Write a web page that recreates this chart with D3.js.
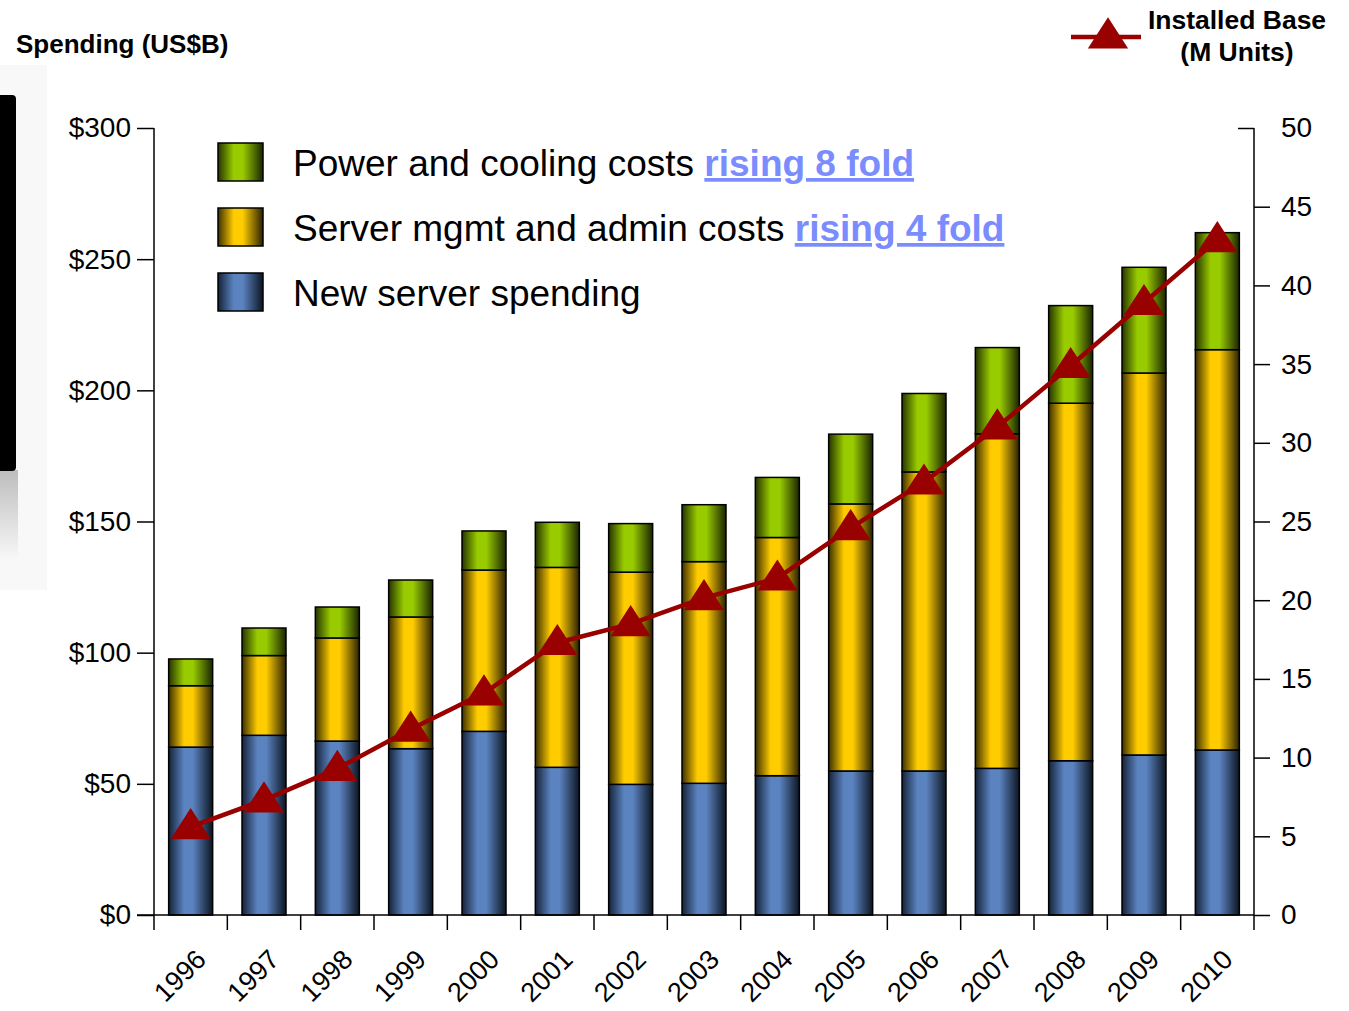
<!DOCTYPE html>
<html>
<head>
<meta charset="utf-8">
<script src="https://cdn.jsdelivr.net/npm/d3@7"></script>
<style>
  body { margin: 0; background: #fff; }
  svg { font-family: "Liberation Sans", Arial, Helvetica, sans-serif; }
</style>
</head>
<body>
<div id="chart"></div>
<script>
var years = ["1996","1997","1998","1999","2000","2001","2002","2003","2004","2005","2006","2007","2008","2009","2010"];
var newServer = [64.0, 68.5, 66.3, 63.4, 70.0, 56.3, 49.8, 50.2, 53.1, 54.9, 54.9, 55.9, 58.8, 61.0, 62.9];
var mgmtAdmin = [23.4, 30.4, 39.3, 50.2, 61.5, 76.2, 80.9, 84.5, 90.8, 101.8, 114.0, 127.5, 136.3, 145.6, 152.6];
var powerCooling = [10.2, 10.5, 11.8, 14.1, 14.9, 17.2, 18.5, 21.7, 22.9, 26.6, 29.9, 32.9, 37.2, 40.3, 44.6];
var installedBase = [5.6, 7.3, 9.3, 11.8, 14.1, 17.3, 18.5, 20.15, 21.4, 24.6, 27.5, 31.0, 34.9, 38.9, 42.9];

var leftTicks = [0, 50, 100, 150, 200, 250, 300];
var rightTicks = [0, 5, 10, 15, 20, 25, 30, 35, 40, 45, 50];

var seriesKeys = ["newServer", "mgmtAdmin", "powerCooling"];
var seriesColors = {
    newServer: ["#152238", "#5b83c0", "#0c1522"],
    mgmtAdmin: ["#3d3000", "#ffcc00", "#2a2100"],
    powerCooling: ["#263400", "#99cc00", "#1a2400"]
};
var legendItems = [
    {key: "powerCooling", text: "Power and cooling costs ", link: "rising 8 fold"},
    {key: "mgmtAdmin", text: "Server mgmt and admin costs ", link: "rising 4 fold"},
    {key: "newServer", text: "New server spending", link: null}
];

var W = 1349, H = 1011;
var margin = {left: 154, right: 95, top: 128, bottom: 96};
var plotW = W - margin.left - margin.right;
var plotH = H - margin.top - margin.bottom;

var svg = d3.select("#chart").append("svg")
    .attr("width", W).attr("height", H);

var defs = svg.append("defs");
seriesKeys.forEach(function(k){
    var c = seriesColors[k];
    var g = defs.append("linearGradient").attr("id", "grad-" + k)
        .attr("x1", "0%").attr("x2", "100%").attr("y1", "0%").attr("y2", "0%");
    g.append("stop").attr("offset", "0%").attr("stop-color", c[0]);
    g.append("stop").attr("offset", "35%").attr("stop-color", c[1]);
    g.append("stop").attr("offset", "55%").attr("stop-color", c[1]);
    g.append("stop").attr("offset", "100%").attr("stop-color", c[2]);
});
var fade = defs.append("linearGradient").attr("id", "fade")
    .attr("x1", "0%").attr("x2", "0%").attr("y1", "0%").attr("y2", "100%");
fade.append("stop").attr("offset", "0%").attr("stop-color", "#bdbdbd");
fade.append("stop").attr("offset", "100%").attr("stop-color", "#f8f8f8");

// left edge remnant of slide
svg.append("rect").attr("x", 0).attr("y", 65).attr("width", 47).attr("height", 525).attr("fill", "#f8f8f8");
svg.append("rect").attr("x", 0).attr("y", 470).attr("width", 18).attr("height", 90).attr("fill", "url(#fade)");
svg.append("rect").attr("x", -6).attr("y", 95).attr("width", 22).attr("height", 376).attr("rx", 4).attr("fill", "#000");

var x = d3.scaleBand().domain(years).range([0, plotW]).paddingInner(0.4).paddingOuter(0.2);
var yL = d3.scaleLinear().domain([0, 300]).range([plotH, 0]);
var yR = d3.scaleLinear().domain([0, 50]).range([plotH, 0]);

var g = svg.append("g").attr("transform", "translate(" + margin.left + "," + margin.top + ")");

var data = years.map(function(yr, i){
    return {year: yr, newServer: newServer[i], mgmtAdmin: mgmtAdmin[i], powerCooling: powerCooling[i]};
});
var stacked = d3.stack().keys(seriesKeys)(data);

stacked.forEach(function(layer){
    g.append("g").selectAll("rect")
        .data(layer)
        .enter().append("rect")
        .attr("x", function(d){ return x(d.data.year); })
        .attr("y", function(d){ return yL(d[1]); })
        .attr("width", x.bandwidth())
        .attr("height", function(d){ return yL(d[0]) - yL(d[1]); })
        .attr("fill", "url(#grad-" + layer.key + ")")
        .attr("stroke", "#000")
        .attr("stroke-width", 1.5);
});

// axes
var leftAxis = d3.axisLeft(yL).tickValues(leftTicks).tickSize(17).tickPadding(6)
    .tickFormat(function(d){ return "$" + d; });
var gl = g.append("g").call(leftAxis);
gl.select(".domain").attr("d", "M0," + plotH + "V0");
gl.selectAll("text").attr("font-size", 28).attr("fill", "#000").attr("font-family", null);
gl.selectAll("line").attr("stroke-width", 1.5);
gl.select(".domain").attr("stroke-width", 1.5);

var rightAxis = d3.axisRight(yR).tickValues(rightTicks).tickSize(16).tickPadding(11);
var gr = g.append("g").attr("transform", "translate(" + plotW + ",0)").call(rightAxis);
gr.select(".domain").attr("d", "M0," + plotH + "V0").attr("stroke-width", 1.5);
gr.selectAll("text").attr("font-size", 28).attr("fill", "#000").attr("font-family", null);
gr.selectAll("line").attr("stroke-width", 1.5);
gr.selectAll(".tick").filter(function(d){ return d === 50; }).select("line").attr("x2", -16);

var gb = g.append("g").attr("transform", "translate(0," + plotH + ")");
gb.append("line").attr("x1", -17).attr("x2", plotW).attr("y1", 0).attr("y2", 0)
    .attr("stroke", "#000").attr("stroke-width", 1.5);
var bounds = years.map(function(yr){ return x(yr) - x.step() * x.paddingInner() / 2; });
bounds.push(plotW);
gb.selectAll("line.tk").data(bounds).enter().append("line").attr("class", "tk")
    .attr("x1", function(d){ return d; }).attr("x2", function(d){ return d; })
    .attr("y1", 0).attr("y2", 15).attr("stroke", "#000").attr("stroke-width", 1.5);
gb.selectAll("text").data(years).enter().append("text")
    .attr("transform", function(d){ return "translate(" + (x(d) + x.bandwidth() / 2 + 17) + ",46) rotate(-45)"; })
    .attr("text-anchor", "end")
    .attr("font-size", 27)
    .text(function(d){ return d; });

// installed base line
var line = d3.line()
    .x(function(d, i){ return x(years[i]) + x.bandwidth() / 2; })
    .y(function(d){ return yR(d); });
g.append("path").datum(installedBase)
    .attr("d", line)
    .attr("fill", "none")
    .attr("stroke", "#990000")
    .attr("stroke-width", 4.5);

var tri = d3.symbol().type(d3.symbolTriangle).size(560);
g.selectAll("path.tri").data(installedBase).enter().append("path").attr("class", "tri")
    .attr("d", tri)
    .attr("transform", function(d, i){ return "translate(" + (x(years[i]) + x.bandwidth() / 2) + "," + (yR(d) + 2) + ") scale(1.12,1)"; })
    .attr("fill", "#990000");

// legend
var lg = svg.append("g").attr("transform", "translate(218,143)");
legendItems.forEach(function(item, i){
    var row = lg.append("g").attr("transform", "translate(0," + (i * 65) + ")");
    row.append("rect").attr("width", 45).attr("height", 38)
        .attr("fill", "url(#grad-" + item.key + ")")
        .attr("stroke", "#000").attr("stroke-width", 1.5);
    var t = row.append("text").attr("x", 75).attr("y", 33).attr("font-size", 37).attr("fill", "#000");
    t.append("tspan").text(item.text);
    if(item.link){
        t.append("tspan").text(item.link)
            .attr("font-weight", "bold")
            .attr("fill", "#7b8cff")
            .attr("text-decoration", "underline");
    }
});

// titles
svg.append("text").attr("x", 16).attr("y", 53).attr("font-size", 26).attr("font-weight", "bold")
    .text("Spending (US$B)");
svg.append("text").attr("x", 1237).attr("y", 29).attr("font-size", 26.5).attr("font-weight", "bold")
    .attr("text-anchor", "middle").text("Installed Base");
svg.append("text").attr("x", 1237).attr("y", 61).attr("font-size", 26.5).attr("font-weight", "bold")
    .attr("text-anchor", "middle").text("(M Units)");
svg.append("line").attr("x1", 1071).attr("x2", 1141).attr("y1", 37).attr("y2", 37)
    .attr("stroke", "#990000").attr("stroke-width", 4.5);
svg.append("path").attr("d", tri)
    .attr("transform", "translate(1108,38) scale(1.12,1)")
    .attr("fill", "#990000");
</script>
</body>
</html>
